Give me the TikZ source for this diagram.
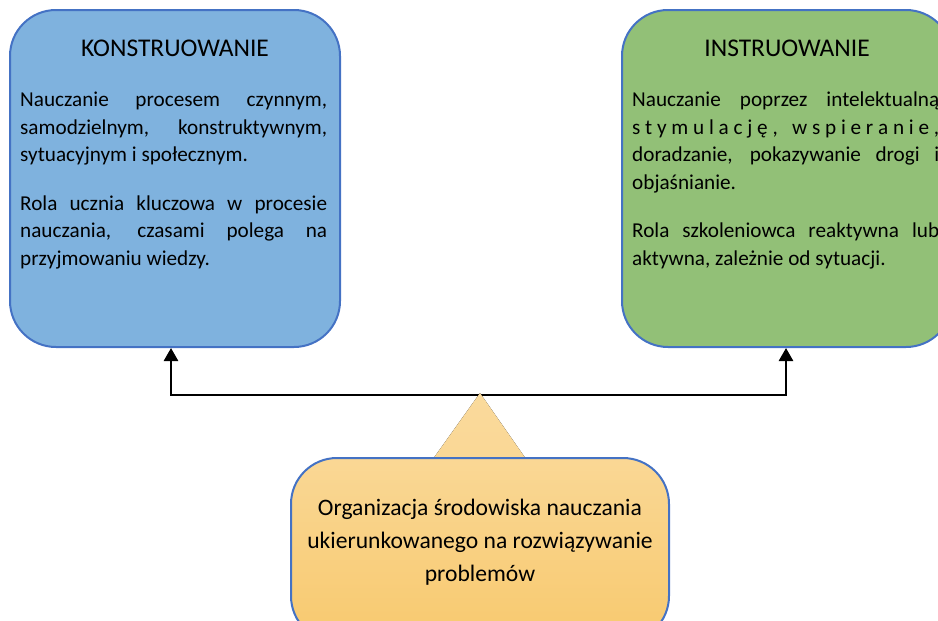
\documentclass[tikz,border=0pt]{standalone}
\usepackage{fontspec}
\setmainfont{Carlito}
\usetikzlibrary{positioning,arrows.meta}

\definecolor{konstrfill}{RGB}{127,178,222}
\definecolor{instrfill}{RGB}{146,192,119}
\definecolor{boxborder}{RGB}{68,114,196}
\definecolor{orgtop}{RGB}{250,218,156}
\definecolor{orgbottom}{RGB}{248,201,110}

\newlength\bodywidth
\setlength\bodywidth{307pt}
\newcommand{\jline}[1]{\makebox[\bodywidth][s]{#1}}

\tikzset{
  roundbox/.style={draw=boxborder, line width=2pt, rounded corners=46pt,
    minimum width=330pt, minimum height=337pt, inner sep=0pt},
  titletext/.style={font=\fontsize{25.5}{30}\selectfont, inner sep=0pt},
  bodytext/.style={font=\fontsize{21.2}{27.5}\selectfont, align=left,
    inner sep=0pt, anchor=north west},
  arrowline/.style={line width=2.6pt, -{Triangle[length=13pt,width=14pt]}}
}

\begin{document}
\begin{tikzpicture}[x=1pt,y=-1pt]
  \useasboundingbox (0,0) rectangle (938,621);
  \clip (0,0) rectangle (938,621);

  % left and right boxes
  \node (konstr) at (175,178.5) [roundbox, fill=konstrfill] {};
  \node (instr) at (787,178.5) [roundbox, fill=instrfill] {};

  \node (konstrtitle) at (175,48) [titletext] {KONSTRUOWANIE};
  \node (instrtitle) at (787,48) [titletext] {INSTRUOWANIE};

  \node (konstrbody) at (20,92) [bodytext] {%
    \jline{Nauczanie procesem czynnym,}\\
    \jline{samodzielnym, konstruktywnym,}\\
    sytuacyjnym i społecznym.\\[21pt]
    \jline{Rola ucznia kluczowa w procesie}\\
    \jline{nauczania, czasami polega na}\\
    przyjmowaniu wiedzy.};

  \node (instrbody) at (632,92) [bodytext] {%
    \jline{Nauczanie poprzez intelektualną}\\
    \jline{s\hfill t\hfill y\hfill m\hfill u\hfill l\hfill a\hfill c\hfill j\hfill ę\hfill ,\hfill\hfill\hfill w\hfill s\hfill p\hfill i\hfill e\hfill r\hfill a\hfill n\hfill i\hfill e\hfill ,}\\
    \jline{doradzanie, pokazywanie drogi i}\\
    objaśnianie.\\[21pt]
    \jline{Rola szkoleniowca reaktywna lub}\\
    aktywna, zależnie od sytuacji.};

  % connectors
  \coordinate (junction) at (480,395);
  \draw[arrowline] (junction) -| ([xshift=-4pt]konstr.south);
  \draw[arrowline] (junction) -| ([xshift=-1pt]instr.south);

  % pointer and bottom box
  \fill[top color=orgtop, bottom color=orgtop!85!orgbottom]
    (480,393) -- (526,459) -- (433,459) -- cycle;
  \node (org) at (480,550) [roundbox, minimum width=378pt, minimum height=184pt,
    top color=orgtop!85!orgbottom, bottom color=orgbottom] {};
  \node (orgtext) at (480,542) [align=center, inner sep=0pt,
    font=\fontsize{23.6}{33}\selectfont] {Organizacja środowiska nauczania\\
    ukierunkowanego na rozwiązywanie\\ problemów};
\end{tikzpicture}
\end{document}
